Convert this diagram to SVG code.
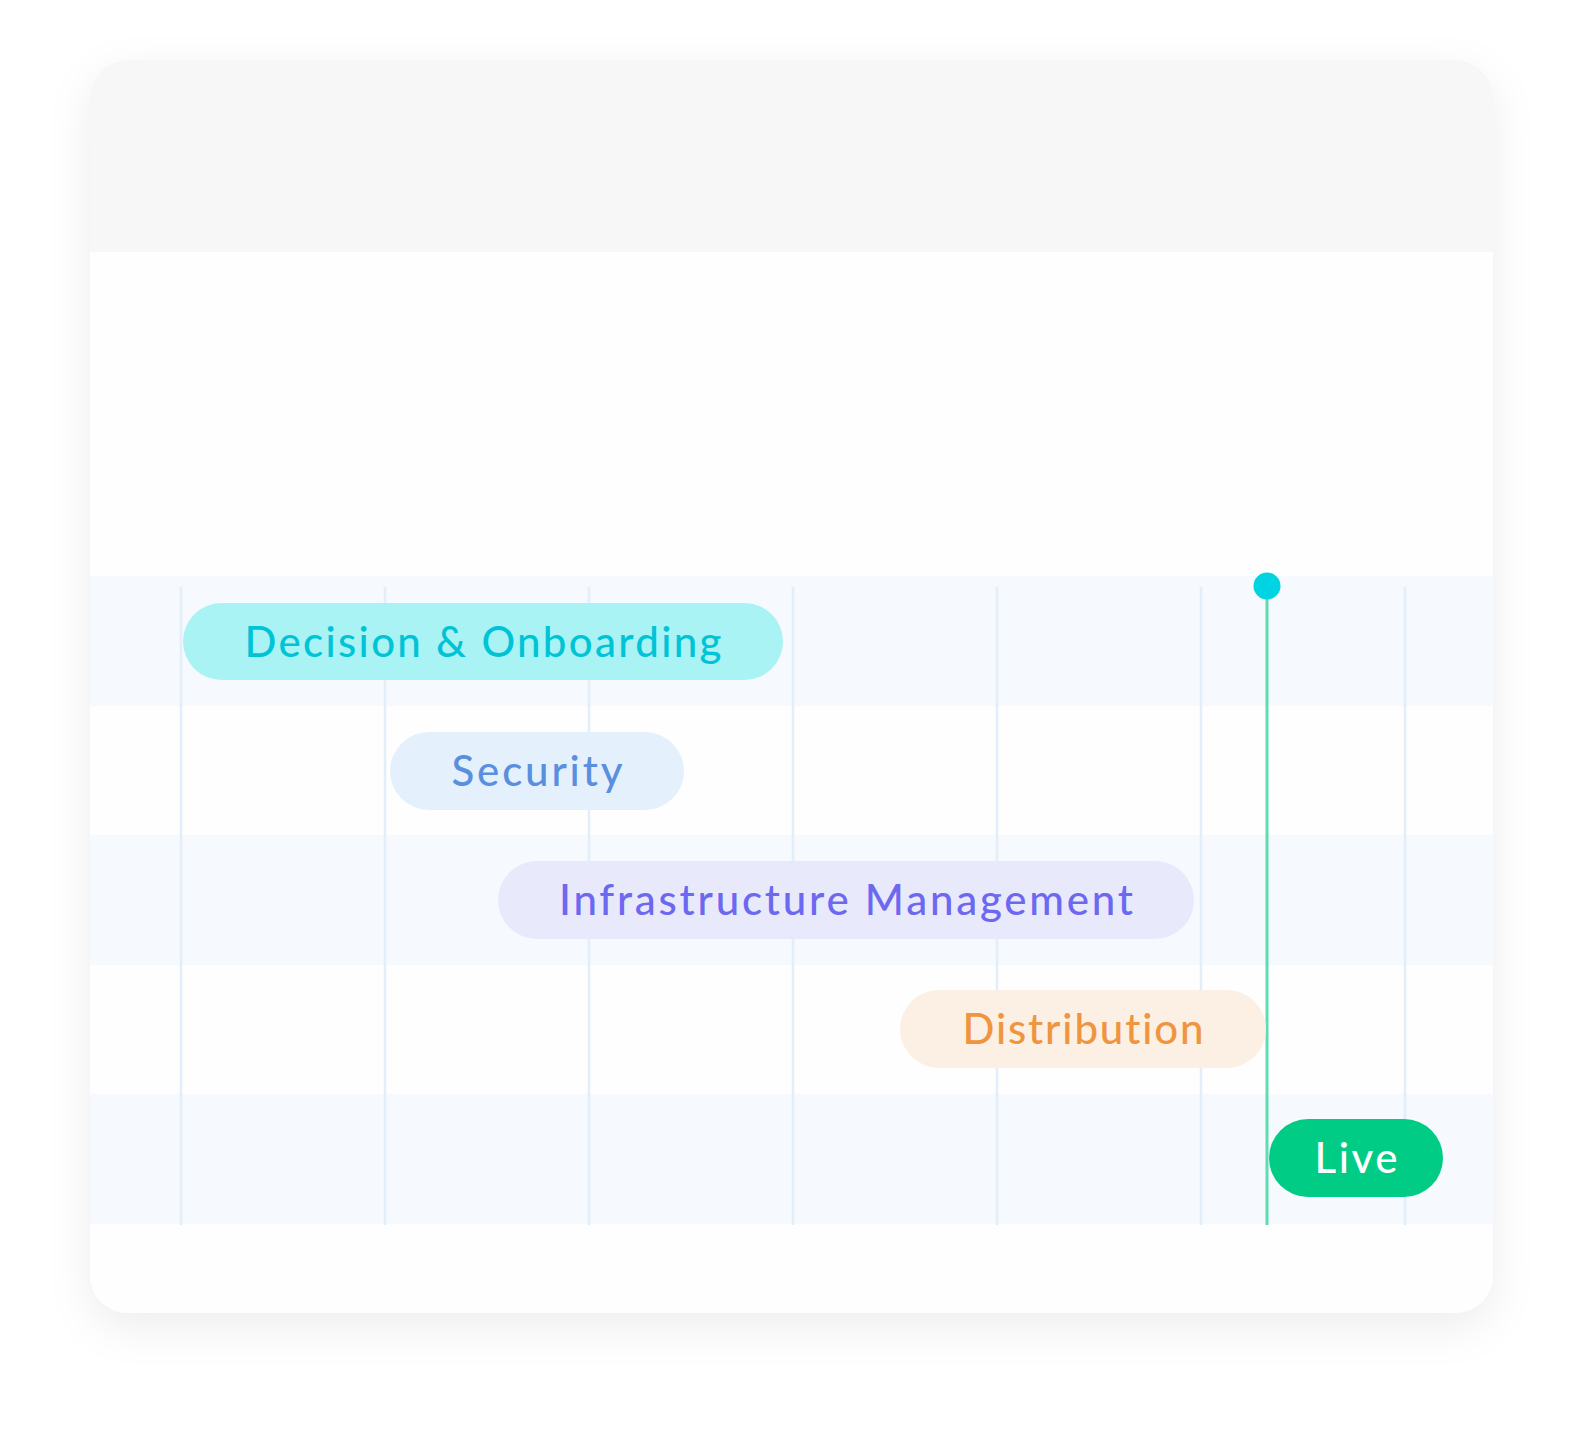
<svg xmlns="http://www.w3.org/2000/svg" width="1584" height="1434" viewBox="0 0 1584 1434">
<defs>
<filter id="shadow" x="-10%" y="-10%" width="120%" height="125%">
<feDropShadow dx="0" dy="14" stdDeviation="22" flood-color="#000" flood-opacity="0.07"/>
</filter>
<clipPath id="cardClip"><rect x="90" y="60" width="1403" height="1253" rx="38"/></clipPath>
</defs>
<style>
.grid{stroke:#e2effb;stroke-width:2.5}
.band{fill:#f6f9fd}
.lbl{font-family:Lato,"Open Sans","Noto Sans",sans-serif;font-size:42px;font-weight:500;text-anchor:middle;font-variant-ligatures:none;font-feature-settings:"liga" 0,"clig" 0}
</style>
<rect width="1584" height="1434" fill="#ffffff"/>
<g id="card">
<rect x="90" y="60" width="1403" height="1253" rx="38" fill="#fefefe" filter="url(#shadow)"/>
<g clip-path="url(#cardClip)">
<rect x="90" y="60" width="1403" height="192" fill="#f7f7f7"/>
<rect class="band" x="90" y="576" width="1403" height="130"/>
<rect class="band" x="90" y="835" width="1403" height="130"/>
<rect class="band" x="90" y="1094" width="1403" height="130"/>
</g>
</g>
<g id="grid">
<line class="grid" x1="181" y1="587" x2="181" y2="1225"/>
<line class="grid" x1="385" y1="587" x2="385" y2="1225"/>
<line class="grid" x1="589" y1="587" x2="589" y2="1225"/>
<line class="grid" x1="793" y1="587" x2="793" y2="1225"/>
<line class="grid" x1="997" y1="587" x2="997" y2="1225"/>
<line class="grid" x1="1201" y1="587" x2="1201" y2="1225"/>
<line class="grid" x1="1405" y1="587" x2="1405" y2="1225"/>
</g>
<g id="connectors">
<line x1="1267" y1="590" x2="1267" y2="1225" stroke="#5fdcb0" stroke-width="3"/>
<circle cx="1267" cy="586" r="13.5" fill="#00d4e2"/>
</g>
<g id="decision">
<rect x="183" y="603" width="600" height="77" rx="38.5" fill="#aaf3f5"/>
<text class="lbl" x="483" y="657" fill="#00c4d5" textLength="477" lengthAdjust="spacing">Decision &amp; Onboarding</text>
</g>
<g id="security">
<rect x="390" y="732" width="294" height="78" rx="39" fill="#e4f1fc"/>
<text class="lbl" x="537" y="786" fill="#5a8fe0" textLength="171" lengthAdjust="spacing">Security</text>
</g>
<g id="infrastructure">
<rect x="498" y="861" width="696" height="78" rx="39" fill="#e9e9fc"/>
<text class="lbl" x="846" y="915" fill="#6c69f0" textLength="574" lengthAdjust="spacing">Infrastructure Management</text>
</g>
<g id="distribution">
<rect x="900" y="990" width="366" height="78" rx="39" fill="#fbf0e3"/>
<text class="lbl" x="1083" y="1044" fill="#f0953f" textLength="241" lengthAdjust="spacing">Distribution</text>
</g>
<g id="live">
<rect x="1269" y="1119" width="174" height="78" rx="39" fill="#00cc85"/>
<text class="lbl" x="1356" y="1173" fill="#ffffff" textLength="83" lengthAdjust="spacing">Live</text>
</g>
</svg>
